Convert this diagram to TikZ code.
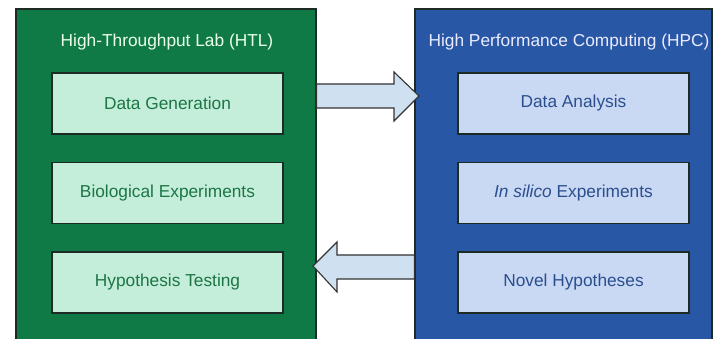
\documentclass[tikz,border=0pt]{standalone}
\usepackage{fontspec}
\setmainfont{Liberation Sans}
\definecolor{htlgreen}{HTML}{0F7A46}
\definecolor{htlbox}{HTML}{C4EEDA}
\definecolor{htltext}{HTML}{1C7545}
\definecolor{hpcblue}{HTML}{2857A5}
\definecolor{hpcbox}{HTML}{C9D8F3}
\definecolor{hpctext}{HTML}{2B4F8E}
\definecolor{arrowfill}{HTML}{CFE0F0}
\definecolor{edge}{HTML}{1E2A24}
\begin{document}
\begin{tikzpicture}[x=1pt,y=-1pt,
  panel/.style={draw=edge,line width=1.3pt,rectangle,inner sep=0pt},
  greenpanel/.style={panel,fill=htlgreen,minimum width=300pt,minimum height=332pt},
  bluepanel/.style={panel,fill=hpcblue,minimum width=297pt,minimum height=332pt},
  itembox/.style={draw=edge,line width=1.3pt,rectangle,minimum width=231pt,minimum height=61pt,inner sep=0pt,font=\fontsize{17.3}{20}\selectfont},
  greenbox/.style={itembox,fill=htlbox,text=htltext},
  bluebox/.style={itembox,fill=hpcbox,text=hpctext},
  ptitle/.style={font=\fontsize{17.3}{20}\selectfont,text=white!92!green,inner sep=0pt},
  blockarrow/.style={draw=black!80,line width=1.1pt,fill=arrowfill,line join=miter}]
\useasboundingbox (0,0) rectangle (713,339);
\fill[white] (0,0) rectangle (713,339);
% panels
\node[greenpanel] (htl) at (166,175) {};
\node[bluepanel] (hpc) at (563.5,175) {};
\node[ptitle] (htltitle) at (167,42) {High-Throughput Lab (HTL)};
\node[ptitle,text=white!92!blue] (hpctitle) at (569,42) {High Performance Computing (HPC)};
% left boxes
\node[greenbox] (dg) at (167.5,103.5) {Data Generation};
\node[greenbox] (be) at (167.5,193) {Biological Experiments};
\node[greenbox] (ht) at (167.5,282.5) {Hypothesis Testing};
% right boxes
\node[bluebox] (da) at (573.5,103.5) {Data Analysis};
\node[bluebox] (is) at (573.5,193) {\textit{In silico} Experiments};
\node[bluebox] (nh) at (573.5,282.5) {Novel Hypotheses};
% block arrows
\draw[blockarrow] (htl.east |- 0,84) -- (394,84) -- (394,72) -- (419,96) -- (394,121) -- (394,108) -- (htl.east |- 0,108) -- cycle;
\draw[blockarrow] (hpc.west |- 0,255) -- (337,255) -- (337,242) -- (313,266) -- (337,292) -- (337,279) -- (hpc.west |- 0,279) -- cycle;
\end{tikzpicture}
\end{document}
